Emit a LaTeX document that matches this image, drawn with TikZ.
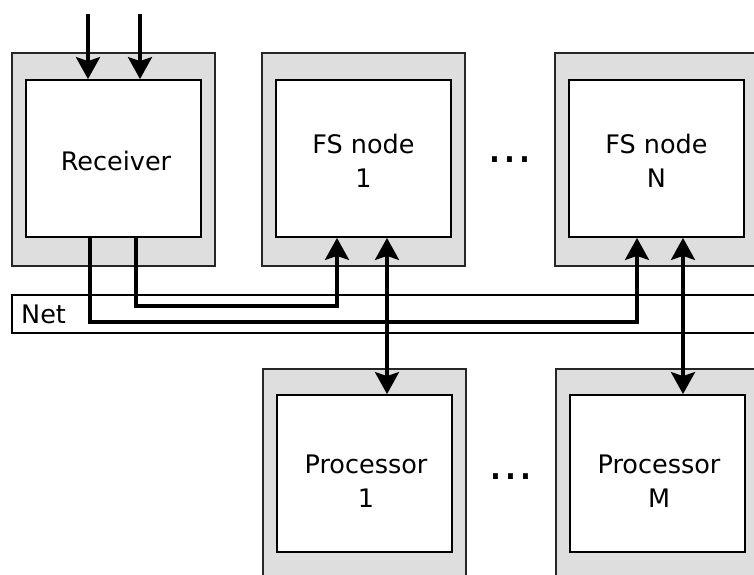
\documentclass[tikz,border=0pt]{standalone}
\usepackage{fontspec}
\setmainfont{DejaVu Sans}
\usetikzlibrary{arrows.meta}
\definecolor{boxgray}{HTML}{DEDEDE}
\tikzset{
  outerbox/.style={draw=black!85, line width=1.8pt, fill=boxgray, minimum width=203pt, minimum height=213pt, inner sep=0pt},
  innerbox/.style={draw=black, line width=1.8pt, fill=white, minimum width=175pt, minimum height=157pt, inner sep=0pt},
  boxtext/.style={align=center, inner sep=0pt, font=\fontsize{25.5}{34}\selectfont},
  netbox/.style={draw=black, line width=1.6pt, fill=white, inner sep=0pt},
  conn/.style={line width=3.6pt},
  tip/.tip={Stealth[length=22pt,width=24pt,inset=4pt]},
  arr/.style={conn, -tip},
  biarr/.style={conn, tip-tip},
  dotstext/.style={font=\fontsize{47}{50}\selectfont, inner sep=0pt, anchor=base}
}
\begin{document}
\begin{tikzpicture}[x=1pt,y=-1pt]
\clip (0,0) rectangle (754,574);
\fill[white] (0,0) rectangle (754,574);
% outer boxes
\node[outerbox] (rout) at (113.5,159.5) {};
\node[outerbox] (f1out) at (363.5,159.5) {};
\node[outerbox] (fNout) at (656.5,159.5) {};
\node[outerbox] (p1out) at (364.5,475.5) {};
\node[outerbox] (pMout) at (657.5,475.5) {};
% inner boxes
\node[innerbox] (rin) at (113.5,158.5) {};
\node[innerbox] (f1in) at (363.5,158.5) {};
\node[innerbox] (fNin) at (656.5,158.5) {};
\node[innerbox] (p1in) at (364.5,473.5) {};
\node[innerbox] (pMin) at (657.5,473.5) {};
% texts (base = baseline of last line)
\node[boxtext, anchor=base] (rt) at (116,170) {Receiver};
\node[boxtext, anchor=base] (f1t) at (363.5,187) {FS node\\1};
\node[boxtext, anchor=base] (fNt) at (656.5,187) {FS node\\N};
\node[boxtext, anchor=base] (p1t) at (366,507) {Processor\\1};
\node[boxtext, anchor=base] (pMt) at (659,507) {Processor\\M};
% net band
\draw[netbox] (12,295) rectangle (770,333);
\node[anchor=base west, inner sep=0pt, font=\fontsize{25.5}{30}\selectfont] (net) at (21,323) {Net};
% dots
\node[dotstext] (d1) at (510,162) {...};
\node[dotstext] (d2) at (511,479) {...};
% coordinates
\coordinate (in1) at (88,14);
\coordinate (in2) at (140,14);
\coordinate (xa) at (90,0);
\coordinate (xb) at (136,0);
\coordinate (xc) at (337,0);
\coordinate (xd) at (637,0);
\coordinate (xe) at (387,0);
\coordinate (xf) at (683,0);
\coordinate (ya) at (0,322);
\coordinate (yb) at (0,306);
% input arrows
\draw[arr] (in1) -- (in1 |- rin.north);
\draw[arr] (in2) -- (in2 |- rin.north);
% receiver to FS nodes
\draw[arr] (rin.south -| xa) -- (xa |- ya) -- (xd |- ya) -- (fNin.south -| xd);
\draw[arr] (rin.south -| xb) -- (xb |- yb) -- (xc |- yb) -- (f1in.south -| xc);
% FS nodes to processors
\draw[biarr] (f1in.south -| xe) -- (p1in.north -| xe);
\draw[biarr] (fNin.south -| xf) -- (pMin.north -| xf);
\end{tikzpicture}
\end{document}
